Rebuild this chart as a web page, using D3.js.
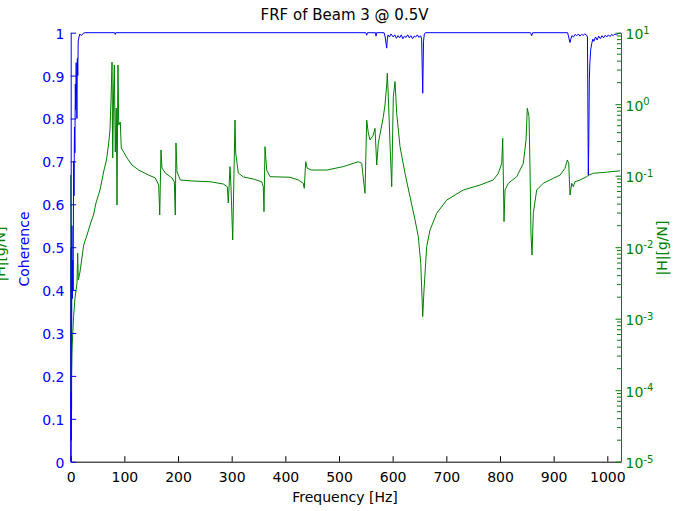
<!DOCTYPE html>
<html><head><meta charset="utf-8">
<script src="https://cdn.jsdelivr.net/npm/d3@7"></script>
<style>
body{margin:0;background:#fff}
svg text{font-family:"DejaVu Sans",sans-serif}
</style>
</head><body>
<svg id="c" width="687" height="511"></svg>
<script>
const title = "FRF of Beam 3 @ 0.5V";
const xLabel = "Frequency [Hz]";
const cohLabel = "Coherence";
const frfLabel = "|H|[g/N]";
const xTicks = [0,100,200,300,400,500,600,700,800,900,1000];
const cohTicks = [0,0.1,0.2,0.3,0.4,0.5,0.6,0.7,0.8,0.9,1];
const frfTickExps = [-5,-4,-3,-2,-1,0,1];

// coherence: [frequency Hz, coherence]
const cohData = [[0,0.0],[0.4,0.5],[0.8,0.05],[1.2,0.3],[1.6,0.12],[2.2,0.55],[3.0,0.38],[3.8,0.47],[4.6,0.40],[5.4,0.70],[6.2,0.62],[7.0,0.78],[7.8,0.72],[8.6,0.88],[9.4,0.82],[10.2,0.93],[11.0,0.86],[11.6,0.80],[12.4,0.94],[13.2,0.90],[14.0,0.98],[15.5,0.99],[17,0.997],[20,0.993],[23,0.998],[26,1.0],[82,1.0],[83,0.996],[84,1.0],[550,1.0],[551.6,0.994],[553,1.0],[568,1.0],[569,0.992],[570,1.0],[584,1.0],[586,0.99],[588.9,0.964],[590,0.985],[591.5,0.995],[594,0.99],[597,0.997],[601,0.99],[604,0.995],[607,0.987],[610,0.993],[613,0.988],[616,0.995],[619,0.986],[622,0.992],[625,0.989],[628,0.995],[631,0.988],[634,0.993],[637,0.986],[640,0.992],[643,0.99],[646,0.995],[649,0.989],[652,0.993],[654,0.985],[656,0.859],[657.5,0.98],[659,0.997],[661,1.0],[857,1.0],[859,0.993],[861,1.0],[926,1.0],[928,0.99],[930.5,0.977],[932,0.985],[934,0.993],[937,0.99],[940,0.996],[943,0.993],[946,0.997],[949,0.992],[952,0.996],[955,0.994],[958,0.997],[961,0.995],[963,0.99],[964.6,0.668],[965.5,0.75],[966.5,0.89],[967.5,0.93],[969,0.96],[971,0.975],[973,0.985],[975,0.98],[978,0.99],[981,0.983],[984,0.992],[987,0.986],[990,0.993],[993,0.988],[996,0.994],[999,0.99],[1002,0.995],[1005,0.991],[1008,0.996],[1011,0.993],[1014,0.997],[1017,0.995],[1020,0.998],[1025,0.999]];

// FRF magnitude: [frequency Hz, |H| g/N]
const frfData = [[0,0.102],[1,9.4e-5],[2.4,3.65e-4],[5.2,1.02e-3],[8.0,1.94e-3],[11.7,3.14e-3],[13.0,8.27e-3],[14.2,3.47e-3],[17.3,4.5e-3],[24.2,0.0107],[30.4,0.0148],[37.8,0.0225],[42.5,0.0282],[47.1,0.0415],[54.6,0.0631],[62.1,0.120],[66.7,0.166],[70.4,0.269],[73.2,0.435],[75.1,1.15],[77.0,3.89],[78.3,0.177],[80.1,1.69],[81.3,3.53],[83.1,0.214],[85.0,0.885],[86.3,0.0389],[88.1,3.53],[89.5,0.512],[92.4,0.564],[94.3,0.244],[98.8,0.214],[104.9,0.177],[114.2,0.141],[126.7,0.120],[145.4,0.102],[157.7,0.0929],[164.0,0.0741],[165.9,0.0282],[168.3,0.229],[170.1,0.128],[176.3,0.109],[188.8,0.0929],[193.1,0.0817],[194.9,0.0282],[196.2,0.287],[198.1,0.113],[204.2,0.0871],[226.1,0.0843],[259.6,0.0824],[284.4,0.0765],[291.8,0.0702],[293.7,0.0415],[296.9,0.134],[298.7,0.0702],[301.9,0.0126],[306.2,0.601],[307.5,0.208],[312.3,0.109],[321.7,0.0960],[340.3,0.0899],[355.9,0.0824],[358.9,0.0702],[360.2,0.0314],[362.1,0.255],[365.3,0.120],[371.4,0.0969],[408.7,0.0951],[424.2,0.0871],[433.5,0.0783],[435.3,0.0667],[437.9,0.157],[440.9,0.127],[449.1,0.120],[477.1,0.120],[508.0,0.134],[536.0,0.157],[542.3,0.149],[548.4,0.0568],[551.6,0.601],[554.6,0.396],[557.8,0.316],[563.9,0.371],[567.1,0.460],[570.3,0.141],[573.2,0.284],[582.6,0.668],[585.7,0.975],[588.9,1.86],[590.0,2.71],[591.9,1.27],[595.0,0.284],[598.2,0.0702],[601.2,1.27],[604.4,2.07],[607.5,0.746],[613.7,0.255],[623.0,0.108],[632.3,0.0508],[641.7,0.0240],[647.8,0.0140],[652.3,0.00596],[656.0,0.00107],[658.4,0.00252],[663.4,0.0102],[669.6,0.0174],[682.1,0.0298],[700.7,0.0457],[731.6,0.0631],[762.8,0.0741],[787.5,0.0871],[796.9,0.108],[803.2,0.149],[805.1,0.333],[807.5,0.0228],[809.4,0.0631],[815.5,0.0783],[831.2,0.0969],[843.5,0.149],[848.5,0.316],[850.9,0.877],[854.1,0.668],[856.0,0.120],[857.8,0.0148],[859.7,0.00778],[862.1,0.0298],[868.4,0.0631],[880.7,0.0783],[899.4,0.0920],[911.9,0.102],[921.2,0.127],[925.5,0.166],[928.1,0.149],[930.5,0.0537],[933.7,0.0783],[936.6,0.0702],[939.8,0.0824],[949.1,0.0871],[961.6,0.0969],[965.9,0.102],[973.9,0.108],[998.9,0.112],[1023.7,0.117]];

const BLUE = "#0000ff", GREEN = "#008000";
const L = 70.7, R = 621, T = 32.7, B = 461.7;
const svg = d3.select("#c");
const x = d3.scaleLinear().domain([0, 1025.5]).range([L, R]);
const yC = d3.scaleLinear().domain([0, 1]).range([B, T]);
const yH = d3.scaleLog().domain([1e-5, 10]).range([B, T]);

// lines
svg.append("path").datum(cohData)
  .attr("fill","none").attr("stroke",BLUE).attr("stroke-width",1)
  .attr("d", d3.line().x(d=>x(d[0])).y(d=>yC(d[1])));
svg.append("path").datum(frfData)
  .attr("fill","none").attr("stroke",GREEN).attr("stroke-width",1)
  .attr("d", d3.line().x(d=>x(d[0])).y(d=>yH(d[1])));

// bottom axis
const gx = svg.append("g").attr("transform",`translate(0,${B})`)
  .call(d3.axisBottom(x).tickValues(xTicks).tickSize(-5.5).tickSizeOuter(0).tickPadding(10).tickFormat(d3.format("d")));
gx.selectAll("path,line").attr("stroke","#000");
gx.selectAll("text").attr("fill","#000").style("font-size","14px");

// left axis
const gl = svg.append("g").attr("transform",`translate(${L},0)`)
  .call(d3.axisLeft(yC).tickValues(cohTicks).tickSize(-5.5).tickSizeOuter(0).tickPadding(6.2).tickFormat(d=>String(d)));
gl.selectAll("path,line").attr("stroke",BLUE);
gl.selectAll("text").attr("fill",BLUE).style("font-size","14px").attr("dy","0.39em");

// right axis
const gr = svg.append("g").attr("transform",`translate(${R},0)`)
  .call(d3.axisRight(yH).tickValues(frfTickExps.map(e=>Math.pow(10,e))).tickSize(-5.5).tickSizeOuter(0).tickFormat(()=>""));
gr.selectAll("path,line").attr("stroke",GREEN);
const minor = [];
frfTickExps.slice(0,-1).forEach(e=>{ for(let m=2;m<=9;m++) minor.push(m*Math.pow(10,e)); });
gr.selectAll("line.minor").data(minor).enter().append("line").attr("class","minor")
  .attr("x1",0).attr("x2",-4).attr("y1",d=>yH(d)).attr("y2",d=>yH(d)).attr("stroke",GREEN);
const rl = svg.append("g");
frfTickExps.forEach(e=>{
  const t = rl.append("text").attr("x",R+4.5).attr("y",yH(Math.pow(10,e))+6.6)
    .attr("fill",GREEN).style("font-size","14px");
  t.append("tspan").text("10");
  t.append("tspan").attr("dy",-5.5).style("font-size","10px").text(String(e));
});

// titles & labels
svg.append("text").attr("x",344.5).attr("y",19.5).attr("text-anchor","middle")
  .style("font-size","15px").attr("fill","#000").text(title);
svg.append("text").attr("x",345).attr("y",502).attr("text-anchor","middle")
  .style("font-size","14px").attr("fill","#000").text(xLabel);
svg.append("text").attr("transform","translate(29,249) rotate(-90)").attr("text-anchor","middle")
  .style("font-size","14px").attr("fill",BLUE).text(cohLabel);
svg.append("text").attr("transform","translate(5,254) rotate(-90)").attr("text-anchor","middle")
  .style("font-size","14px").attr("fill",GREEN).text(frfLabel);
svg.append("text").attr("transform","translate(667,248) rotate(-90)").attr("text-anchor","middle")
  .style("font-size","14px").attr("fill",GREEN).text(frfLabel);
</script>
</body></html>
